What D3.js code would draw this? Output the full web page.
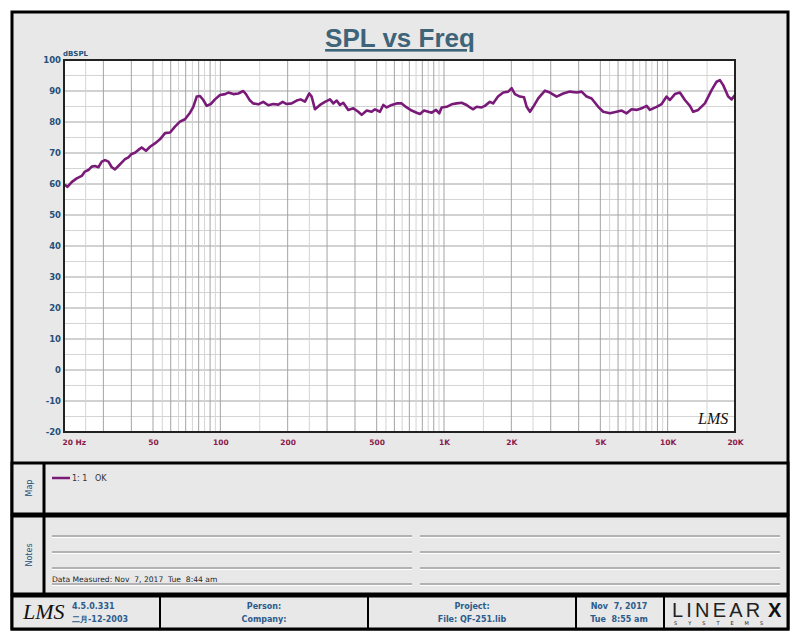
<!DOCTYPE html>
<html>
<head>
<meta charset="utf-8">
<script src="https://cdn.jsdelivr.net/npm/d3@7"></script>
<style>
  body { margin: 0; background: #fff; }
  text { font-family: "DejaVu Sans", Verdana, sans-serif; white-space: pre; }
</style>
</head>
<body>
<div id="chart"></div>
<script>
const width = 800;
const height = 640;

const freqs = [20, 20.2, 20.7, 21.7, 22.8, 24.0, 24.8, 25.7, 26.6, 27.5, 28.5, 29.5, 30.5, 31.6, 32.7, 33.8, 35.0, 36.2, 37.5, 38.8,
    40.1, 41.5, 43.0, 44.5, 46.5, 48.5, 51.0, 53.7, 56.6, 59.6, 62.7, 66.0, 69.5, 73.2, 75.7, 78.4, 81.1, 83.9, 86.9, 90.6,
    94.6, 99.7, 105, 108.6, 114.3, 120.3, 126.6, 130.2, 135.7, 140.4, 147.8, 155.6, 163.8, 172.5, 181.6, 190, 198, 208.4, 219.4, 228.6,
    239, 249.8, 256, 264.9, 278.9, 293.7, 309.2, 319.9, 331.3, 342.7, 354.6, 373.3, 393.1, 413.8, 428.5, 451.2, 474.9, 491.4, 517.3, 535.3,
    554.4, 583.6, 614.4, 646.8, 680.9, 716.8, 754.7, 780.8, 814, 850.7, 881, 921, 952.6, 976.3, 1028, 1082, 1139, 1199, 1262, 1306,
    1351, 1399, 1473, 1524, 1604, 1657, 1743, 1840, 1937, 2006, 2075, 2184, 2278, 2342, 2423, 2506, 2638, 2827, 2976, 3188,
    3412, 3656, 3916, 4124, 4341, 4571, 4892, 5150, 5518, 5911, 6226, 6553, 6899, 7263, 7646, 8051, 8328, 8924, 9395, 9890,
    10233, 10772, 11341, 11940, 12572, 13004, 13693, 14670, 15719, 16546, 17120, 17710, 18645, 19310, 20000];
const spl = [59.4, 59.7, 59.1, 60.7, 61.8, 62.6, 64.0, 64.5, 65.6, 65.8, 65.4, 67.2, 67.7, 67.2, 65.4, 64.7, 65.8, 66.9, 68.0, 68.6,
    69.7, 70.1, 71.0, 71.8, 70.7, 72.0, 73.1, 74.4, 76.4, 76.6, 78.5, 80.1, 80.9, 83.0, 84.9, 88.2, 88.4, 87.1, 85.2, 85.8,
    87.3, 88.7, 89.0, 89.5, 89.0, 89.2, 90.0, 89.0, 86.9, 86.0, 85.7, 86.5, 85.4, 85.8, 85.6, 86.5, 85.8, 86.0, 86.9, 87.3,
    86.6, 89.2, 88.2, 84.1, 85.5, 86.5, 87.3, 86.0, 86.9, 85.5, 86.2, 83.9, 84.4, 83.3, 82.3, 83.7, 83.3, 84.1, 83.3, 85.5,
    84.7, 85.5, 86.0, 86.0, 84.7, 83.7, 83.0, 82.6, 83.7, 83.3, 83.0, 83.9, 82.8, 84.7, 84.9, 85.7, 86.0, 86.2, 85.5, 84.7,
    84.1, 84.9, 84.7, 85.2, 86.5, 86.0, 88.2, 89.5, 89.8, 90.9, 89.0, 88.2, 88.0, 84.9, 83.3, 84.9, 87.6, 90.1, 89.5, 88.2,
    89.2, 89.8, 89.5, 89.8, 88.2, 87.6, 84.9, 83.3, 82.8, 83.3, 83.7, 82.8, 84.1, 83.9, 84.4, 85.2, 83.9, 84.9, 85.8, 88.2,
    87.1, 89.0, 89.5, 87.1, 85.2, 83.3, 83.9, 86.0, 90.3, 93.0, 93.5, 91.9, 88.2, 87.3, 88.7];

const xTicks = [20, 50, 100, 200, 500, 1000, 2000, 5000, 10000, 20000];
const xTickLabels = ["20 Hz", "50", "100", "200", "500", "1K", "2K", "5K", "10K", "20K"];
const yTicks = [-20, -10, 0, 10, 20, 30, 40, 50, 60, 70, 80, 90, 100];
const gridMults = [1, 1.5, 2, 2.5, 3, 4, 5, 5.5, 6, 6.5, 7, 7.5, 8, 8.5, 9, 9.5];
const decades = [10, 100, 1000, 10000];

const svg = d3.select("#chart").append("svg")
    .attr("width", width)
    .attr("height", height);

// outer sheet
svg.append("rect")
    .attr("x", 12).attr("y", 12).attr("width", 776).attr("height", 617)
    .attr("fill", "#e8e8e8").attr("stroke", "#000").attr("stroke-width", 3);

const plot = { left: 64, top: 60, right: 735, bottom: 432 };

const x = d3.scaleLog()
    .domain([20, 20000])
    .range([plot.left, plot.right]);

const y = d3.scaleLinear()
    .domain([-20, 100])
    .range([plot.bottom, plot.top]);

svg.append("rect")
    .attr("x", plot.left).attr("y", plot.top)
    .attr("width", plot.right - plot.left).attr("height", plot.bottom - plot.top)
    .attr("fill", "#fff");

// title
svg.append("text")
    .attr("x", 400).attr("y", 47)
    .attr("text-anchor", "middle")
    .attr("fill", "#3d6478")
    .style("font-family", "'Liberation Sans', Arial, sans-serif")
    .style("font-size", "26px")
    .style("font-weight", "bold")
    .style("text-decoration", "underline")
    .text("SPL vs Freq");

// grid
const grid = svg.append("g");
const yGrid = d3.range(-20, 101, 5);
grid.selectAll(".hg")
    .data(yGrid)
    .enter()
    .append("line")
    .attr("x1", plot.left).attr("x2", plot.right)
    .attr("y1", d => y(d)).attr("y2", d => y(d))
    .attr("stroke", d => d % 10 === 0 ? "#a4a4a4" : "#d4d4d4")
    .attr("stroke-width", 1);

const vGrid = [];
decades.forEach(dec => gridMults.forEach(m => {
    const f = dec * m;
    if (f > 20 && f < 20000) vGrid.push({ f: f, major: m % 1 === 0 });
}));
grid.selectAll(".vg")
    .data(vGrid)
    .enter()
    .append("line")
    .attr("x1", d => x(d.f)).attr("x2", d => x(d.f))
    .attr("y1", plot.top).attr("y2", plot.bottom)
    .attr("stroke", d => d.major ? "#a4a4a4" : "#d4d4d4")
    .attr("stroke-width", 1);

// curve
const pts = freqs.map((f, i) => ({ f: f, v: spl[i] }));
svg.append("path")
    .datum(pts)
    .attr("fill", "none")
    .attr("stroke", "#7a1a78")
    .attr("stroke-width", 2.6)
    .attr("stroke-linejoin", "round")
    .attr("d", d3.line().x(d => x(d.f)).y(d => y(d.v)));

// plot frame
svg.append("rect")
    .attr("x", plot.left).attr("y", plot.top)
    .attr("width", plot.right - plot.left).attr("height", plot.bottom - plot.top)
    .attr("fill", "none").attr("stroke", "#222").attr("stroke-width", 2);

// axes
const xAxis = svg.append("g")
    .attr("transform", `translate(0, ${plot.bottom})`)
    .call(d3.axisBottom(x).tickValues(xTicks).tickFormat((d, i) => xTickLabels[i]).tickSize(0).tickPadding(8));
xAxis.select(".domain").remove();
xAxis.selectAll("text")
    .attr("fill", "#8a1a4c")
    .style("font-size", "7.5px")
    .style("font-weight", "bold");
xAxis.selectAll("text").filter((d, i) => i === 0)
    .attr("text-anchor", "start").attr("x", -2);

const yAxis = svg.append("g")
    .attr("transform", `translate(${plot.left}, 0)`)
    .call(d3.axisLeft(y).tickValues(yTicks).tickFormat(d => String(d)).tickSize(0).tickPadding(3));
yAxis.select(".domain").remove();
yAxis.selectAll("text")
    .attr("fill", "#24507a")
    .style("font-size", "8.5px")
    .style("font-weight", "bold");

svg.append("text")
    .attr("x", 63).attr("y", 56)
    .attr("fill", "#24507a")
    .style("font-size", "7px")
    .style("font-weight", "bold")
    .text("dBSPL");

// LMS mark inside the plot
svg.append("text")
    .attr("x", 698).attr("y", 424)
    .attr("fill", "#111")
    .style("font-family", "'Liberation Serif', serif")
    .style("font-style", "italic")
    .style("font-size", "16px")
    .text("LMS");

// map box
svg.append("rect")
    .attr("x", 12).attr("y", 463).attr("width", 776).attr("height", 51)
    .attr("fill", "#e8e8e8").attr("stroke", "#000").attr("stroke-width", 3);
// notes box
svg.append("rect")
    .attr("x", 12).attr("y", 516).attr("width", 776).attr("height", 78)
    .attr("fill", "#e8e8e8").attr("stroke", "#000").attr("stroke-width", 3);
// label column
svg.append("line")
    .attr("x1", 44).attr("x2", 44).attr("y1", 463).attr("y2", 594)
    .attr("stroke", "#000").attr("stroke-width", 3);

[["Map", 488], ["Notes", 555]].forEach(([t, cy]) => {
    svg.append("text")
        .attr("transform", `translate(32, ${cy}) rotate(-90)`)
        .attr("text-anchor", "middle")
        .attr("fill", "#24507a")
        .style("font-size", "8px")
        .text(t);
});

// legend
svg.append("line")
    .attr("x1", 52).attr("x2", 70).attr("y1", 478).attr("y2", 478)
    .attr("stroke", "#7a1a78").attr("stroke-width", 2.5);
svg.append("text")
    .attr("x", 72).attr("y", 481)
    .attr("fill", "#333")
    .style("font-size", "8px")
    .text("1: 1   OK");

// note lines
const noteRows = [536, 552, 568, 584];
noteRows.forEach((ny, i) => {
    [[52, 412], [420, 780]].forEach(([a, b]) => {
        svg.append("line").attr("x1", a).attr("x2", b).attr("y1", ny).attr("y2", ny)
            .attr("stroke", "#7c7c7c").attr("stroke-width", 1.2);
        svg.append("line").attr("x1", a).attr("x2", b).attr("y1", ny + 1.5).attr("y2", ny + 1.5)
            .attr("stroke", "#fff").attr("stroke-width", 1);
    });
});
svg.append("text")
    .attr("x", 52).attr("y", 582)
    .attr("fill", "#222")
    .style("font-size", "7.6px")
    .text("Data Measured: Nov  7, 2017  Tue  8:44 am");

// footer
svg.append("rect")
    .attr("x", 12).attr("y", 596).attr("width", 776).attr("height", 33)
    .attr("fill", "#e8e8e8").attr("stroke", "#000").attr("stroke-width", 3);
[160, 368, 576, 664].forEach(fx => {
    svg.append("line").attr("x1", fx).attr("x2", fx).attr("y1", 596).attr("y2", 629)
        .attr("stroke", "#000").attr("stroke-width", 2);
});

svg.append("text")
    .attr("x", 23).attr("y", 619)
    .attr("fill", "#111")
    .style("font-family", "'Liberation Serif', serif")
    .style("font-style", "italic")
    .style("font-size", "22px")
    .text("LMS");

const footText = [
    { x: 72, y: 609, t: "4.5.0.331", a: "start" },
    { x: 72, y: 622, t: "二月-12-2003", a: "start" },
    { x: 264, y: 609, t: "Person:", a: "middle" },
    { x: 264, y: 622, t: "Company:", a: "middle" },
    { x: 472, y: 609, t: "Project:", a: "middle" },
    { x: 472, y: 622, t: "File: QF-251.lib", a: "middle" },
    { x: 619, y: 609, t: "Nov  7, 2017", a: "middle" },
    { x: 619, y: 622, t: "Tue  8:55 am", a: "middle" }
];
svg.selectAll(".foot")
    .data(footText)
    .enter()
    .append("text")
    .attr("x", d => d.x).attr("y", d => d.y)
    .attr("text-anchor", d => d.a)
    .attr("fill", "#2c5b8c")
    .style("font-size", "8px")
    .style("font-weight", "bold")
    .text(d => d.t);

// LinearX logo
svg.append("text")
    .attr("x", 672).attr("y", 617)
    .attr("fill", "#222")
    .style("font-family", "'Liberation Sans', sans-serif")
    .style("font-size", "20px")
    .style("font-weight", "300")
    .style("letter-spacing", "3.2px")
    .text("LINEAR");
svg.append("text")
    .attr("x", 768).attr("y", 617)
    .attr("fill", "#111")
    .style("font-family", "'Liberation Sans', sans-serif")
    .style("font-size", "20px")
    .style("font-weight", "bold")
    .text("X");
svg.append("text")
    .attr("x", 674).attr("y", 625)
    .attr("fill", "#222")
    .style("font-size", "5px")
    .style("letter-spacing", "11px")
    .text("SYSTEMS");
</script>
</body>
</html>
